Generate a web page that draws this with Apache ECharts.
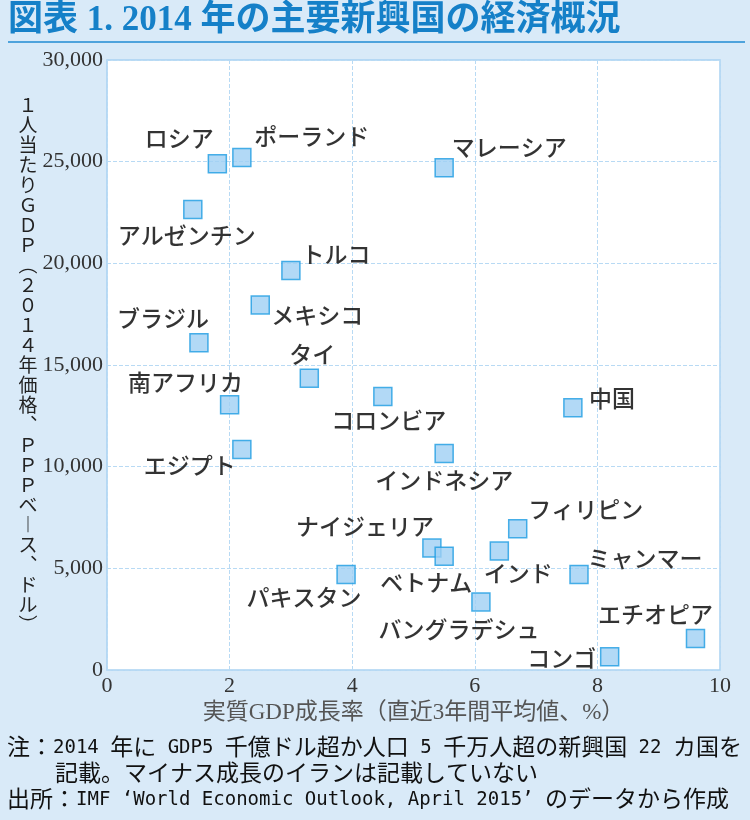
<!DOCTYPE html>
<html>
<head>
<meta charset="utf-8">
<script src="https://cdn.jsdelivr.net/npm/echarts@6/dist/echarts.min.js"></script>
<style>
  html, body { margin: 0; padding: 0; background: #d9eaf8; }
  #chart { width: 750px; height: 820px; }
</style>
</head>
<body>
<div id="chart"></div>
<script>
// 国名・成長率(%)・1人当たりGDP(ドル)
var countries = ['ロシア', 'ポーランド', 'マレーシア', 'アルゼンチン', 'トルコ', 'メキシコ', 'ブラジル', 'タイ',
  '南アフリカ', 'コロンビア', '中国', 'エジプト', 'インドネシア', 'フィリピン', 'ナイジェリア', 'ベトナム',
  'インド', 'ミャンマー', 'パキスタン', 'バングラデシュ', 'エチオピア', 'コンゴ'];
var growth = [1.8, 2.2, 5.5, 1.4, 3.0, 2.5, 1.5, 3.3,
  2.0, 4.5, 7.6, 2.2, 5.5, 6.7, 5.3, 5.5,
  6.4, 7.7, 3.9, 6.1, 9.6, 8.2];
var gdpPerCapita = [24900, 25200, 24700, 22650, 19650, 17950, 16100, 14350,
  13050, 13450, 12900, 10850, 10650, 6950, 6000, 5600,
  5850, 4700, 4700, 3350, 1550, 650];

// ラベルの位置（マーカーからのずれ）
var labelOffset = {
  'ロシア': [-38, -25], 'ポーランド': [70, -21], 'マレーシア': [65, -21], 'アルゼンチン': [-6, 26],
  'トルコ': [45, -16], 'メキシコ': [57, 10], 'ブラジル': [-36, -24], 'タイ': [3, -24],
  '南アフリカ': [-44, -22], 'コロンビア': [6, 24], '中国': [39, -9], 'エジプト': [-52, 16],
  'インドネシア': [0, 27], 'フィリピン': [68, -19], 'ナイジェリア': [-67, -22], 'ベトナム': [-18, 26],
  'インド': [19, 22], 'ミャンマー': [66, -16], 'パキスタン': [-42, 23], 'バングラデシュ': [-22, 27],
  'エチオピア': [-40, -24], 'コンゴ': [-48, 1]
};

var yName = '１人当たりＧＤＰ︵２０１４年価格︑ＰＰＰベ︱ス︑ドル︶';
var notes = [
  '注：2014 年に GDP5 千億ドル超か人口 5 千万人超の新興国 22 カ国を',
  '記載。マイナス成長のイランは記載していない',
  '出所：IMF \u2018World Economic Outlook, April 2015\u2019 のデータから作成'
];

var serif = '"Liberation Serif", "Noto Sans CJK JP"';
var sans = '"Noto Sans CJK JP"';

// 半角部分だけ等幅フォントにする
function monoRuns(s) {
  return s.replace(/([\x20-\x7e\u2018\u2019]+)/g, '{m|$1}');
}
var noteStyle = {
  fontFamily: sans, fontSize: 23, lineHeight: 26, fill: '#111',
  rich: { m: { fontFamily: '"DejaVu Sans Mono"', fontSize: 19, lineHeight: 26, padding: [5, 0, 0, 0], fill: '#111' } }
};

var chart = echarts.init(document.getElementById('chart'));

var option = {
  backgroundColor: '#d9eaf8',
  animation: false,
  grid: {
    left: 107, right: 30, top: 60, bottom: 150,
    show: true,
    backgroundColor: '#ffffff',
    borderColor: '#a9d2f2',
    borderWidth: 1.5
  },
  xAxis: {
    type: 'value',
    min: 0, max: 10, interval: 2,
    name: '実質GDP成長率（直近3年間平均値、%）',
    nameLocation: 'middle',
    nameGap: 31,
    nameTextStyle: { fontFamily: serif, fontSize: 23, color: '#555' },
    axisLine: { show: false },
    axisTick: { show: false },
    axisLabel: { fontFamily: serif, fontSize: 22, color: '#333', margin: 5 },
    splitLine: { lineStyle: { color: '#b8daf4', type: 'dashed', width: 1 } }
  },
  yAxis: {
    type: 'value',
    min: 0, max: 30000, interval: 5000,
    axisLine: { show: false },
    axisTick: { show: false },
    axisLabel: {
      fontFamily: serif, fontSize: 22, color: '#333', margin: 4,
      formatter: function (v) { return v.toLocaleString('en-US'); }
    },
    splitLine: { lineStyle: { color: '#b8daf4', type: 'dashed', width: 1 } }
  },
  series: [{
    type: 'scatter',
    symbol: 'rect',
    symbolSize: 18,
    itemStyle: { color: '#9fd0f4', borderColor: '#1d9ce2', borderWidth: 1.5 },
    label: {
      show: true,
      position: 'inside',
      formatter: '{b}',
      fontFamily: sans,
      fontWeight: 500,
      fontSize: 23,
      color: '#000'
    },
    emphasis: { disabled: true },
    data: countries.map(function (c, i) {
      return { name: c, value: [growth[i], gdpPerCapita[i]], label: { offset: labelOffset[c] } };
    })
  }],
  graphic: [
    {
      type: 'text', left: 8, top: 3,
      style: { text: '図表 1. 2014 年の主要新興国の経済概況', fontFamily: serif, fontWeight: 'bold', fontSize: 35, fill: '#1580c8' }
    },
    {
      type: 'line',
      shape: { x1: 8, y1: 42, x2: 745, y2: 42 },
      style: { stroke: '#4ea3dc', lineWidth: 2 }
    },
    {
      type: 'text',
      style: {
        text: yName.split('').join('\n'),
        x: 28, y: 95, align: 'center', verticalAlign: 'top',
        fontFamily: sans, fontSize: 19, lineHeight: 20, fill: '#222'
      }
    },
    { type: 'text', left: 7, top: 733, style: Object.assign({ text: monoRuns(notes[0]) }, noteStyle) },
    { type: 'text', left: 55, top: 759, style: Object.assign({ text: monoRuns(notes[1]) }, noteStyle) },
    { type: 'text', left: 7, top: 785, style: Object.assign({ text: monoRuns(notes[2]) }, noteStyle) }
  ]
};

chart.setOption(option);
</script>
</body>
</html>
